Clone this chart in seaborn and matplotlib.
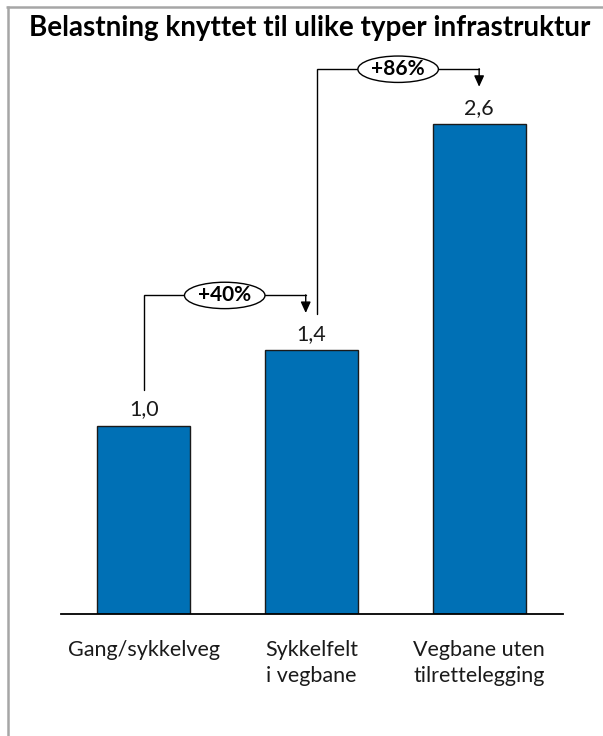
import matplotlib
matplotlib.use("Agg")
import matplotlib.pyplot as plt
from matplotlib.lines import Line2D
from matplotlib.patches import Ellipse
import seaborn as sns
import pandas as pd

# Data
categories = ["Gang/sykkelveg", "Sykkelfelt\ni vegbane", "Vegbane uten\ntilrettelegging"]
values = [1.0, 1.4, 2.6]
title = "Belastning knyttet til ulike typer infrastruktur"

BAR_COLOR = "#0070B5"
FONT = ["Lato", "DejaVu Sans"]

sns.set_theme(style="white")
plt.rcParams["font.family"] = FONT

W, H, DPI = 603, 736, 100
fig = plt.figure(figsize=(W / DPI, H / DPI), dpi=DPI)
ax = fig.add_axes([60.7 / W, 1 - 614 / H, (563 - 60.7) / W, (614 - 48.5) / H])

df = pd.DataFrame({"kategori": categories, "belastning": values})
sns.barplot(data=df, x="kategori", y="belastning", color=BAR_COLOR, saturation=1,
            width=0.555, edgecolor="#1a1a1a", linewidth=1.0, ax=ax)

ax.set_xlim(-0.495, 2.5)
ax.set_ylim(0, 3.0)
ax.set_xlabel("")
ax.set_ylabel("")
ax.set_yticks([])
for side in ["left", "right", "top"]:
    ax.spines[side].set_visible(False)
ax.spines["bottom"].set_color("black")
ax.spines["bottom"].set_linewidth(1.3)
ax.tick_params(axis="x", length=0, pad=19, labelsize=15.5, labelcolor="#1a1a1a")
for lbl in ax.get_xticklabels():
    lbl.set_linespacing(1.35)

# Value labels above bars
for i, v in enumerate(values):
    ax.text(i, v + 0.085, f"{v:.1f}".replace(".", ","), ha="center", va="center",
            fontsize=15.5, color="#1a1a1a")

# Brackets showing relative increase between neighbouring bars
def bracket(i, gap_l, gap_r):
    v0, v1 = values[i], values[i + 1]
    x0 = i + gap_l
    x1 = i + 1 - gap_r
    y0 = v0 + 0.19
    ytop = v1 + 0.29
    ytip = v1 + 0.197
    ax.plot([x0, x0, x1], [y0, ytop, ytop], color="black", lw=1.0,
            solid_joinstyle="miter", clip_on=False, zorder=3)
    ax.annotate("", xy=(x1, ytip), xytext=(x1, ytop + 0.003),
                arrowprops=dict(arrowstyle="-|>,head_length=0.55,head_width=0.25",
                                color="black", lw=1.0, shrinkA=0, shrinkB=0),
                annotation_clip=False, zorder=3)
    xm = (x0 + x1) / 2
    ax.add_patch(Ellipse((xm, ytop), 0.48, 0.14, facecolor="white",
                         edgecolor="black", lw=1.0, clip_on=False, zorder=4))
    pct = round((v1 / v0 - 1) * 100)
    ax.text(xm, ytop, f"+{pct}%", ha="center", va="center", fontsize=15,
            fontweight="bold", color="black", zorder=5)

bracket(0, 0.0, 0.034)
bracket(1, 0.034, 0.0)

# Title
fig.text(310 / W, 1 - 36 / H, title, ha="center", va="baseline", fontsize=20,
         fontweight="bold", color="black")

# Grey frame lines along the left and top edges
frame_kw = dict(color="#a6a6a6", lw=1.8, solid_capstyle="butt")
fig.add_artist(Line2D([7.5 / W, 7.5 / W], [0, 1 - 6.3 / H], transform=fig.transFigure, **frame_kw))
fig.add_artist(Line2D([6.3 / W, 1], [1 - 7 / H, 1 - 7 / H], transform=fig.transFigure, **frame_kw))

fig.savefig("out.png", dpi=DPI, facecolor="white")
